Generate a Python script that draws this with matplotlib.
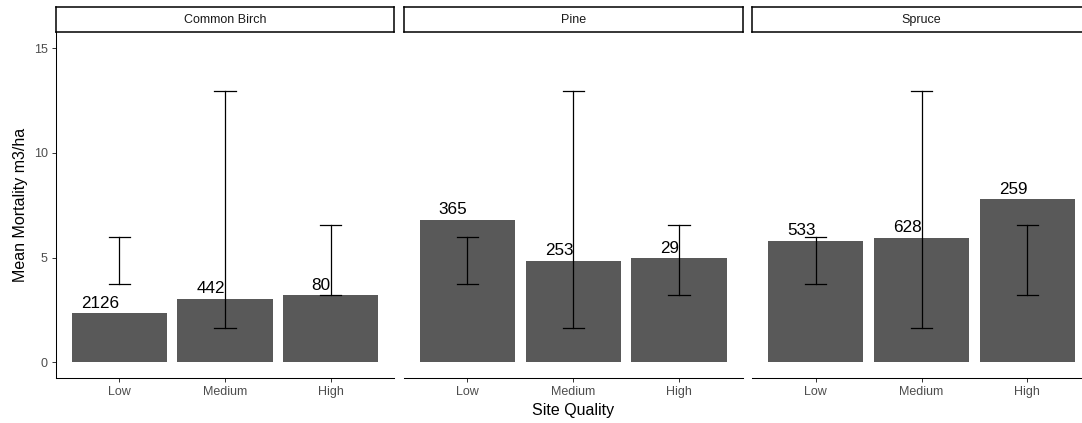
import matplotlib
matplotlib.use("Agg")
import matplotlib.pyplot as plt

species = ["Common Birch", "Pine", "Spruce"]
quality = ["Low", "Medium", "High"]

means = {
    "Common Birch": [2.34, 3.02, 3.20],
    "Pine": [6.79, 4.85, 4.96],
    "Spruce": [5.80, 5.95, 7.78],
}
counts = {
    "Common Birch": [2126, 442, 80],
    "Pine": [365, 253, 29],
    "Spruce": [533, 628, 259],
}
err_low = {
    "Common Birch": [3.74, 1.62, 3.20],
    "Pine": [3.74, 1.62, 3.20],
    "Spruce": [3.74, 1.62, 3.20],
}
err_high = {
    "Common Birch": [6.00, 12.93, 6.55],
    "Pine": [6.00, 12.93, 6.55],
    "Spruce": [6.00, 12.93, 6.55],
}
yticks = [0, 5, 10, 15]

plt.rcParams['font.family'] = ['Liberation Sans', 'DejaVu Sans']

W, H = 1082, 423
fig = plt.figure(figsize=(W / 100, H / 100), dpi=100)

panel_left = [55.7, 404.0, 752.3]
panel_w = 338.5
p_top, p_bot = 32.3, 377.7
s_top = 6.8

bar_color = "#595959"
x = list(range(1, len(quality) + 1))

for i, sp in enumerate(species):
    l = panel_left[i]
    ax = fig.add_axes([l / W, (H - p_bot) / H, panel_w / W, (p_bot - p_top) / H])
    ax.bar(x, means[sp], width=0.9, color=bar_color, zorder=2)
    for xi, lo, hi in zip(x, err_low[sp], err_high[sp]):
        ax.plot([xi, xi], [lo, hi], color="black", lw=0.9, zorder=3)
        ax.plot([xi - 0.1, xi + 0.1], [lo, lo], color="black", lw=0.9, zorder=3)
        ax.plot([xi - 0.1, xi + 0.1], [hi, hi], color="black", lw=0.9, zorder=3)
    for xi, m, c in zip(x, means[sp], counts[sp]):
        ax.annotate(str(c), (xi, m), xytext=(0, 4), textcoords="offset points",
                    ha="right", va="baseline", fontsize=12.3, color="black", zorder=4)
    ax.set_xlim(0.4, 3.6)
    ax.set_ylim(-0.735, 15.75)
    ax.set_xticks(x)
    ax.set_xticklabels(quality, fontsize=9, color="#4D4D4D")
    ax.tick_params(axis="x", length=2.8, width=0.7, color="#333333", pad=3)
    for s in ["top", "right"]:
        ax.spines[s].set_visible(False)
    ax.spines["bottom"].set_linewidth(0.75)
    ax.spines["bottom"].set_color("black")
    if i == 0:
        ax.set_yticks(yticks)
        ax.set_yticklabels([str(t) for t in yticks], fontsize=9, color="#4D4D4D")
        ax.tick_params(axis="y", length=2.8, width=0.7, color="#333333", pad=3)
        ax.spines["left"].set_linewidth(0.75)
        ax.spines["left"].set_color("black")
        ax.set_ylabel("Mean Mortality m3/ha", fontsize=11.5, labelpad=4)
    else:
        ax.spines["left"].set_visible(False)
        ax.set_yticks([])
    if i == 1:
        ax.set_xlabel("Site Quality", fontsize=11.5, labelpad=4)

    sax = fig.add_axes([l / W, (H - p_top) / H, panel_w / W, (p_top - s_top) / H])
    sax.set_xticks([])
    sax.set_yticks([])
    for s in sax.spines.values():
        s.set_linewidth(1.1)
        s.set_color("black")
    sax.text(0.5, 0.5, sp, ha="center", va="center", fontsize=9, color="#1A1A1A",
             transform=sax.transAxes)

fig.savefig("out.png", dpi=100)
